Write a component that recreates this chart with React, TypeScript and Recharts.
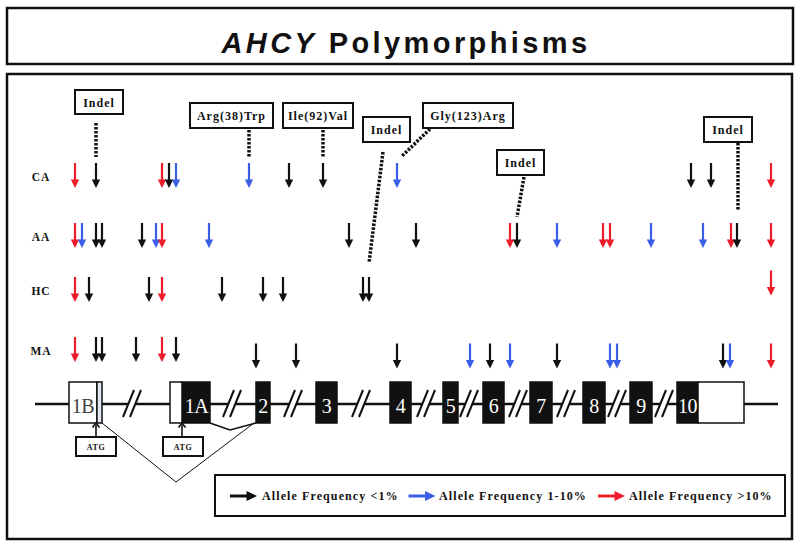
import React from 'react';
import { ComposedChart, XAxis, YAxis, Scatter, ReferenceArea, ReferenceLine } from 'recharts';

const SERIF = '"Liberation Serif", "Times New Roman", serif';
const SANS = '"Liberation Sans", Arial, Helvetica, sans-serif';

// frequency classes: 0 = <1%, 1 = 1-10%, 2 = >10%
const FREQ_COLORS = ['#111111', '#3a5ee6', '#ec1c2a'];
const FREQ_LABELS = ['Allele Frequency <1%', 'Allele Frequency 1-10%', 'Allele Frequency >10%'];

const ROW_NAMES = ['CA', 'AA', 'HC', 'MA'];

// variant positions along the gene drawing and their frequency class
const CA_POS = [75, 96, 162, 169, 176, 249, 289, 323, 397, 691, 711, 771];
const CA_FREQ = [2, 0, 2, 0, 1, 1, 0, 0, 1, 0, 0, 2];
const CA_TIER = [0, 0, 0, 0, 0, 0, 0, 0, 0, 0, 0, 0];

const AA_POS = [75, 82, 96, 102, 142, 156, 162, 209, 349, 416, 510, 517, 557, 603, 610, 651, 703, 731, 737, 771];
const AA_FREQ = [2, 1, 0, 0, 0, 1, 2, 1, 0, 0, 2, 0, 1, 2, 2, 1, 1, 2, 0, 2];
const AA_TIER = [0, 0, 0, 0, 0, 0, 0, 0, 0, 0, 0, 0, 0, 0, 0, 0, 0, 0, 0, 0];

const HC_POS = [75, 89, 149, 162, 222, 263, 283, 363, 369, 771];
const HC_FREQ = [2, 0, 0, 2, 0, 0, 0, 0, 0, 2];
const HC_TIER = [0, 0, 0, 0, 0, 0, 0, 0, 0, -1];

const MA_POS = [75, 96, 102, 136, 162, 176, 256, 296, 397, 470, 490, 510, 557, 610, 617, 723, 730, 771];
const MA_FREQ = [2, 0, 0, 0, 2, 0, 0, 0, 0, 1, 0, 1, 0, 1, 1, 0, 1, 2];
const MA_TIER = [0, 0, 0, 0, 0, 0, 1, 1, 1, 1, 1, 1, 1, 1, 1, 1, 1, 1];

const EXON_NAMES = ['1B', '1A', '2', '3', '4', '5', '6', '7', '8', '9', '10'];
const ANNOTATION_LABELS = ['Indel', 'Arg(38)Trp', 'Ile(92)Val', 'Indel', 'Gly(123)Arg', 'Indel', 'Indel'];
const TITLE_GENE = 'AHCY';
const TITLE_REST = ' Polymorphisms';

// ---------- layout (diagram geometry) ----------
const ROW_Y = [175.5, 235.5, 289.5, 349.5];
const TIER_SHIFT = 6.5;
const LINE_Y = 404;
const EXON_TOP = 382;
const EXON_BOTTOM = 423;
const BACKBONE = [35, 778];
const EXON_SPANS = [[69, 97], [182, 210], [256, 270], [316, 337], [390, 411], [443, 458], [483, 504], [530, 552], [583, 605], [630, 652], [677, 698]];
const EXON_LABEL_X = [83, 196.5, 263, 326.5, 400.5, 450.5, 493.5, 541, 594, 641, 687.5];
const UTR_SPANS = [[170, 182], [698, 744]];
const STRIP_SPAN = [97, 102];
const BREAKS = [132, 232, 293, 361, 426, 469, 518, 566, 617, 664];
const ANN_BOXES = [[75, 123, 90, 114], [190, 273, 103, 128], [283, 353, 103, 128], [363, 410, 117, 142], [423, 513, 103, 128], [497, 544, 150, 175], [704, 752, 117, 142]];
const ANN_LEADERS = [[[96, 123], [96, 157]], [[249, 130], [249, 157]], [[323, 130], [323, 157]], [[383, 152], [369, 263]], [[430, 129], [402, 156]], [[524, 177], [517, 217]], [[738, 143], [738, 210]]];
const ATG_BOXES = [[76, 116, 437, 456], [163, 203, 437, 456]];
const ATG_X = [96, 182];
const SPLICE_SMALL = [[210, 423], [230, 430], [256, 423]];
const SPLICE_BIG = [[102, 423], [176, 482], [254, 423]];
const LEGEND_BOX = [215, 785, 475, 516];
const LEGEND_ARROW_X = [243.5, 422, 611.5];
const LEGEND_TEXT_X = [262, 439, 629];
const LEGEND_Y = 496;

const variants = (pos: number[], freq: number[], tier: number[], row: number) =>
  pos.map((x, i) => ({ x, y: ROW_Y[row] + tier[i] * TIER_SHIFT, f: freq[i] }));

const VARIANT_SETS = [
  variants(CA_POS, CA_FREQ, CA_TIER, 0),
  variants(AA_POS, AA_FREQ, AA_TIER, 1),
  variants(HC_POS, HC_FREQ, HC_TIER, 2),
  variants(MA_POS, MA_FREQ, MA_TIER, 3),
];

// backbone segments between boxes and break gaps
const obstacles: number[][] = [
  ...EXON_SPANS, ...UTR_SPANS, STRIP_SPAN,
  ...BREAKS.map((c) => [c - 3.5, c + 3.5]),
].sort((a, b) => a[0] - b[0]);
const backboneSegments: number[][] = [];
{
  let cur = BACKBONE[0];
  for (const [a, b] of obstacles) {
    if (a > cur) backboneSegments.push([cur, a]);
    cur = Math.max(cur, b);
  }
  if (cur < BACKBONE[1]) backboneSegments.push([cur, BACKBONE[1]]);
}

const DownArrow = (props: any) => {
  const { cx, cy, payload } = props;
  const c = FREQ_COLORS[payload.f];
  return (
    <g>
      <line x1={cx} y1={cy - 12.5} x2={cx} y2={cy + 5} stroke={c} strokeWidth={2.2} />
      <polygon points={`${cx - 4.2},${cy + 4} ${cx + 4.2},${cy + 4} ${cx},${cy + 12.5}`} fill={c} />
    </g>
  );
};

const UpArrow = (props: any) => {
  const { cx, cy } = props;
  return (
    <g>
      <line x1={cx} y1={cy + 7} x2={cx} y2={cy - 5} stroke="#111" strokeWidth={1.6} />
      <polyline points={`${cx - 3.5},${cy - 2.5} ${cx},${cy - 7} ${cx + 3.5},${cy - 2.5}`} fill="none" stroke="#111" strokeWidth={1.6} />
    </g>
  );
};

const RightArrow = (props: any) => {
  const { cx, cy, payload } = props;
  const c = FREQ_COLORS[payload.f];
  return (
    <g>
      <line x1={cx - 13.5} y1={cy} x2={cx + 5} y2={cy} stroke={c} strokeWidth={3} />
      <polygon points={`${cx + 3},${cy - 5} ${cx + 13.5},${cy} ${cx + 3},${cy + 5}`} fill={c} />
    </g>
  );
};

const TextMark = (props: any) => {
  const { cx, cy, payload } = props;
  return (
    <text
      x={cx}
      y={cy}
      textAnchor={payload.anchor || 'middle'}
      dominantBaseline="central"
      fontFamily={payload.family || SERIF}
      fontSize={payload.size}
      fontWeight={payload.weight || 700}
      letterSpacing={payload.ls || 0}
      fill={payload.color || '#111'}
    >
      {payload.text}
    </text>
  );
};

const TitleMark = (props: any) => {
  const { cx, cy } = props;
  return (
    <text x={cx} y={cy} textAnchor="middle" dominantBaseline="central" fontFamily={SANS} fontSize={29} fontWeight={700} letterSpacing={3.4} fill="#111">
      <tspan fontStyle="italic">{TITLE_GENE}</tspan>
      <tspan>{TITLE_REST}</tspan>
    </text>
  );
};

const rowLabels = ROW_NAMES.map((t, i) => ({ x: 41, y: ROW_Y[i] + 1, text: t, size: 11.5, ls: 1 }));
const exonLabels = EXON_NAMES.map((t, i) => ({ x: EXON_LABEL_X[i], y: 405.5, text: t, size: 20, weight: 400, ls: -0.5, color: i === 0 ? '#444' : '#fff' }));
const annLabels = ANNOTATION_LABELS.map((t, i) => ({ x: (ANN_BOXES[i][0] + ANN_BOXES[i][1]) / 2, y: (ANN_BOXES[i][2] + ANN_BOXES[i][3]) / 2 + 0.5, text: t, size: 12, ls: 1 }));
const atgLabels = ATG_BOXES.map((b) => ({ x: (b[0] + b[1]) / 2, y: (b[2] + b[3]) / 2 + 0.5, text: 'ATG', size: 8, ls: 0.6 }));
const legendLabels = FREQ_LABELS.map((t, i) => ({ x: LEGEND_TEXT_X[i], y: LEGEND_Y, text: t, size: 12, ls: 1.1, anchor: 'start' }));
const legendArrows = FREQ_LABELS.map((_, i) => ({ x: LEGEND_ARROW_X[i], y: LEGEND_Y, f: i }));
const atgArrows = ATG_X.map((x) => ({ x, y: 430 }));
const titleData = [{ x: 406, y: 43 }];

const seg = (p: number[][]) => p.map(([x, y]) => ({ x, y }));

export default function App() {
  return (
    <div style={{ position: 'absolute', left: 0, top: 0, background: '#fff' }}>
      <ComposedChart width={800} height={548} margin={{ top: 0, right: 0, bottom: 0, left: 0 }}>
        <XAxis type="number" dataKey="x" domain={[0, 800]} allowDataOverflow hide />
        <YAxis type="number" dataKey="y" domain={[0, 548]} allowDataOverflow reversed hide />

        {/* frames */}
        <ReferenceArea x1={7} x2={793} y1={8} y2={64} fill="#fff" fillOpacity={1} stroke="#111" strokeWidth={2.5} ifOverflow="visible" />
        <ReferenceArea x1={7} x2={792} y1={74} y2={539} fill="#fff" fillOpacity={1} stroke="#111" strokeWidth={2.5} ifOverflow="visible" />

        {/* backbone */}
        {backboneSegments.map(([a, b], i) => (
          <ReferenceLine key={'bb' + i} segment={[{ x: a, y: LINE_Y }, { x: b, y: LINE_Y }]} stroke="#111" strokeWidth={2.5} ifOverflow="visible" />
        ))}

        {/* break marks */}
        {BREAKS.flatMap((c, i) => [-3.5, 3.5].map((off, j) => (
          <ReferenceLine key={'br' + i + '-' + j} segment={[{ x: c + off - 5.5, y: 417 }, { x: c + off + 5.5, y: 390 }]} stroke="#111" strokeWidth={2} ifOverflow="visible" />
        )))}

        {/* splice lines */}
        {SPLICE_SMALL.slice(1).map((p, i) => (
          <ReferenceLine key={'ss' + i} segment={seg([SPLICE_SMALL[i], p])} stroke="#111" strokeWidth={1.5} ifOverflow="visible" />
        ))}
        {SPLICE_BIG.slice(1).map((p, i) => (
          <ReferenceLine key={'sb' + i} segment={seg([SPLICE_BIG[i], p])} stroke="#111" strokeWidth={1} ifOverflow="visible" />
        ))}

        {/* exons */}
        {EXON_SPANS.map(([a, b], i) => (
          <ReferenceArea key={'ex' + i} x1={a} x2={b} y1={EXON_TOP} y2={EXON_BOTTOM} fill={i === 0 ? '#fff' : '#111'} fillOpacity={1} stroke="#111" strokeWidth={1.5} ifOverflow="visible" />
        ))}
        {UTR_SPANS.map(([a, b], i) => (
          <ReferenceArea key={'utr' + i} x1={a} x2={b} y1={EXON_TOP} y2={EXON_BOTTOM} fill="#fff" fillOpacity={1} stroke="#111" strokeWidth={1.5} ifOverflow="visible" />
        ))}
        <ReferenceArea x1={STRIP_SPAN[0]} x2={STRIP_SPAN[1]} y1={EXON_TOP} y2={EXON_BOTTOM} fill="#e4e8f0" fillOpacity={1} stroke="#111" strokeWidth={1.5} ifOverflow="visible" />

        {/* ATG boxes */}
        {ATG_BOXES.map(([a, b, c, d], i) => (
          <ReferenceArea key={'atg' + i} x1={a} x2={b} y1={c} y2={d} fill="#fff" fillOpacity={1} stroke="#111" strokeWidth={2} ifOverflow="visible" />
        ))}

        {/* annotation boxes and leaders */}
        {ANN_BOXES.map(([a, b, c, d], i) => (
          <ReferenceArea key={'ann' + i} x1={a} x2={b} y1={c} y2={d} fill="#fff" fillOpacity={1} stroke="#111" strokeWidth={2} ifOverflow="visible" />
        ))}
        {ANN_LEADERS.map((p, i) => (
          <ReferenceLine key={'ld' + i} segment={seg(p)} stroke="#111" strokeWidth={3.5} strokeDasharray="2.5 1.5" ifOverflow="visible" />
        ))}

        {/* legend box */}
        <ReferenceArea x1={LEGEND_BOX[0]} x2={LEGEND_BOX[1]} y1={LEGEND_BOX[2]} y2={LEGEND_BOX[3]} fill="#fff" fillOpacity={1} stroke="#111" strokeWidth={2} ifOverflow="visible" />

        {/* variant arrows */}
        {VARIANT_SETS.map((d, i) => (
          <Scatter key={'v' + i} data={d} shape={DownArrow} isAnimationActive={false} />
        ))}
        <Scatter data={atgArrows} shape={UpArrow} isAnimationActive={false} />
        <Scatter data={legendArrows} shape={RightArrow} isAnimationActive={false} />

        {/* texts */}
        <Scatter data={titleData} shape={TitleMark} isAnimationActive={false} />
        <Scatter data={rowLabels} shape={TextMark} isAnimationActive={false} />
        <Scatter data={exonLabels} shape={TextMark} isAnimationActive={false} />
        <Scatter data={annLabels} shape={TextMark} isAnimationActive={false} />
        <Scatter data={atgLabels} shape={TextMark} isAnimationActive={false} />
        <Scatter data={legendLabels} shape={TextMark} isAnimationActive={false} />
      </ComposedChart>
    </div>
  );
}
